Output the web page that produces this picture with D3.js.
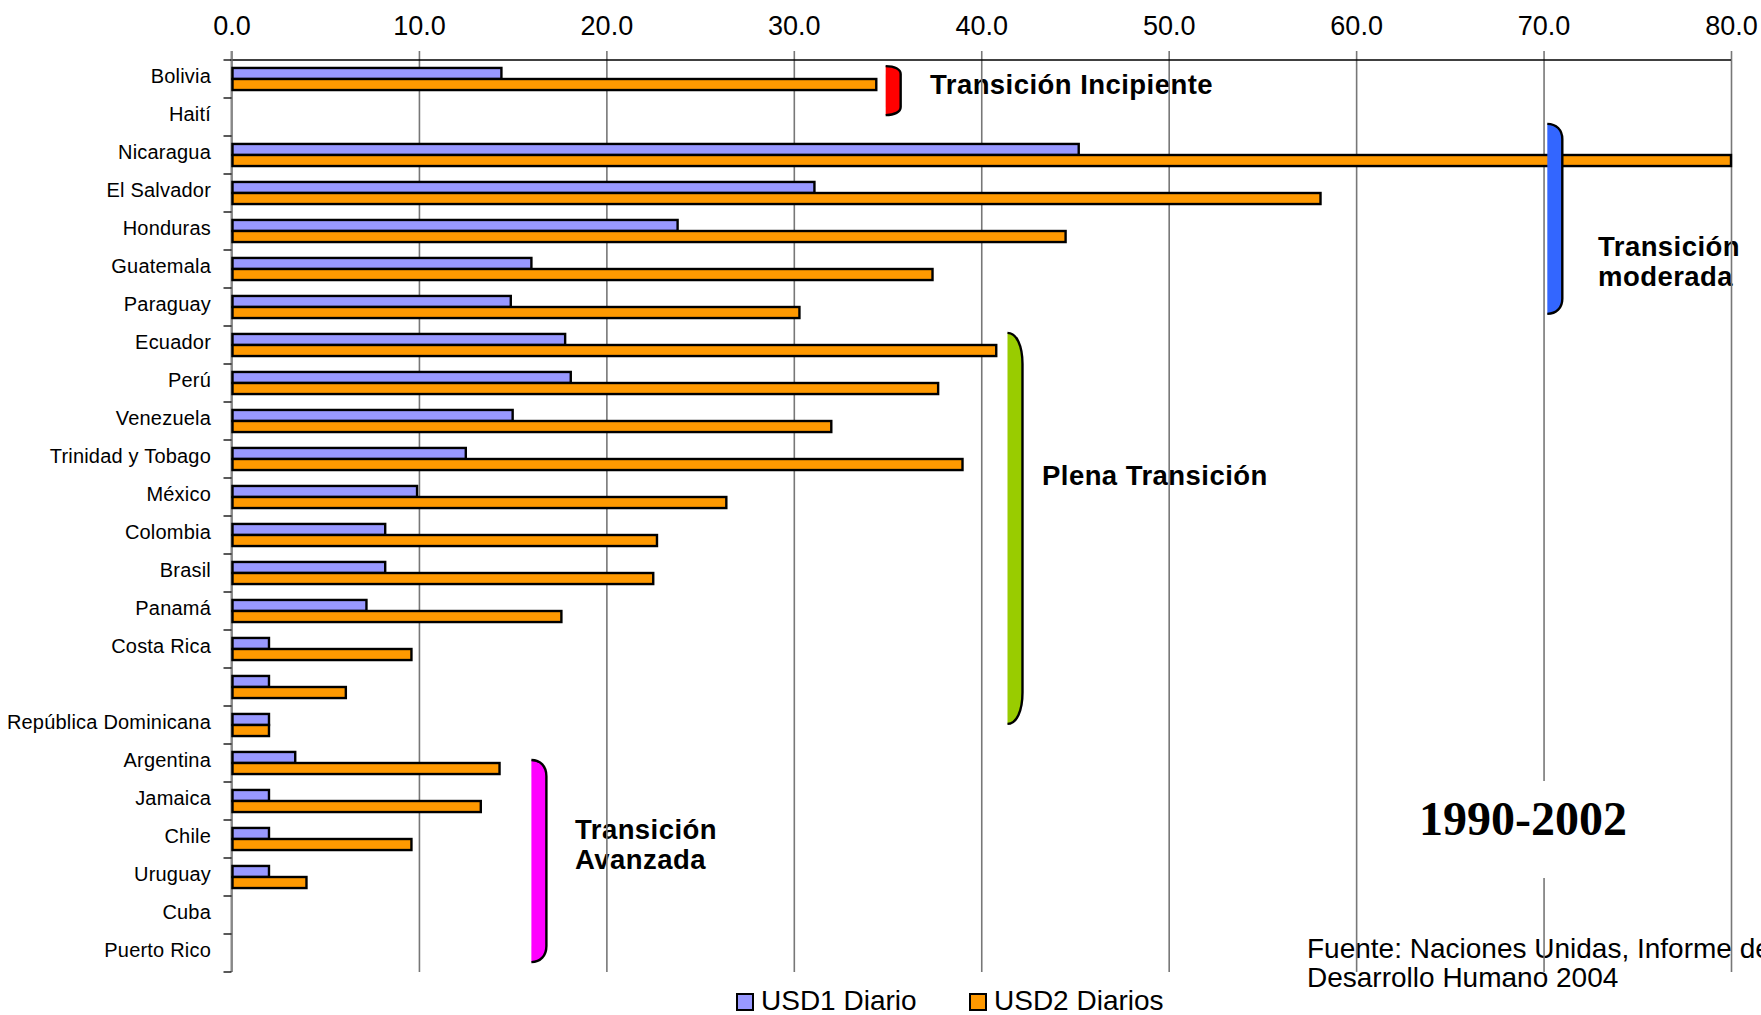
<!DOCTYPE html>
<html>
  <head>
    <meta charset="utf-8">
    <script src="https://d3js.org/d3.v7.min.js"></script>
    <style>
      body { margin: 0; background: #fff; }
      svg { display: block; }
    </style>
  </head>
  <body>
    <svg width="1761" height="1015"></svg>
    <script>
      var categories = ["Bolivia", "Haití", "Nicaragua", "El Salvador", "Honduras", "Guatemala",
        "Paraguay", "Ecuador", "Perú", "Venezuela", "Trinidad y Tobago", "México", "Colombia",
        "Brasil", "Panamá", "Costa Rica", "", "República Dominicana", "Argentina", "Jamaica",
        "Chile", "Uruguay", "Cuba", "Puerto Rico"];
      var usd1 = [14.4, null, 45.2, 31.1, 23.8, 16.0, 14.9, 17.8, 18.1, 15.0, 12.5, 9.9, 8.2,
        8.2, 7.2, 2.0, 2.0, 2.0, 3.4, 2.0, 2.0, 2.0, null, null];
      var usd2 = [34.4, null, 80.0, 58.1, 44.5, 37.4, 30.3, 40.8, 37.7, 32.0, 39.0, 26.4, 22.7,
        22.5, 17.6, 9.6, 6.1, 2.0, 14.3, 13.3, 9.6, 4.0, null, null];
      var seriesNames = ["USD1 Diario", "USD2 Diarios"];
      var xTicks = [0, 10, 20, 30, 40, 50, 60, 70, 80];
      var groupNames = [["Transición Incipiente"], ["Transición", "moderada"],
        ["Plena Transición"], ["Transición", "Avanzada"]];

      var colors = ["#9999ff", "#ff9900"];
      var svg = d3.select("svg");
      var plotTop = 60, plotBottom = 972, plotLeft = 231.5, plotRight = 1731;

      var x = d3.scaleLinear().domain([0, 80]).range([plotLeft, plotRight]);
      var y = d3.scaleBand().domain(d3.range(categories.length)).range([plotTop, plotBottom]);
      var sub = d3.scaleBand().domain([0, 1]).range([0, y.bandwidth()]).paddingOuter(0.72);

      // source note sits behind the grid
      svg.append("text")
        .attr("x", 1307).attr("y", 958)
        .style("font", "28px 'Liberation Sans', Arial, sans-serif")
        .selectAll("tspan")
        .data(["Fuente: Naciones Unidas, Informe de", "Desarrollo Humano 2004"])
        .join("tspan")
        .attr("x", 1307)
        .attr("dy", function(d, i) { return i ? 29 : 0; })
        .text(function(d) { return d; });

      // group labels (also behind grid)
      var labelPos = [[930, 94], [1598, 256], [1042, 485], [575, 839]];
      groupNames.forEach(function(lines, i) {
        svg.append("text")
          .attr("x", labelPos[i][0]).attr("y", labelPos[i][1])
          .style("font", "bold 27.5px 'Liberation Sans', Arial, sans-serif")
          .style("letter-spacing", "0.45px")
          .selectAll("tspan").data(lines).join("tspan")
          .attr("x", labelPos[i][0])
          .attr("dy", function(d, j) { return j ? 30 : 0; })
          .text(function(d) { return d; });
      });

      // top axis with gridlines
      var axis = svg.append("g")
        .attr("transform", "translate(0,51)")
        .call(d3.axisTop(x).tickValues(xTicks).tickFormat(d3.format(".1f"))
          .tickSizeInner(-(plotBottom - 51)).tickSizeOuter(0).tickPadding(16));
      axis.select(".domain").remove();
      axis.selectAll(".tick line").attr("stroke", "#777").attr("stroke-width", 1.6);
      axis.selectAll(".tick text")
        .style("font", "27px 'Liberation Sans', Arial, sans-serif").attr("fill", "#000");

      svg.append("line")
        .attr("x1", plotLeft - 1).attr("x2", plotRight).attr("y1", plotTop).attr("y2", plotTop)
        .attr("stroke", "#000").attr("stroke-width", 1.3);

      // left axis: ticks at row boundaries, labels at centres
      svg.append("line")
        .attr("x1", plotLeft).attr("x2", plotLeft).attr("y1", plotTop - 9).attr("y2", plotBottom)
        .attr("stroke", "#888").attr("stroke-width", 2);
      svg.selectAll(".rowtick")
        .data(d3.range(categories.length + 1))
        .join("line")
        .attr("class", "rowtick")
        .attr("x1", plotLeft - 8).attr("x2", plotLeft)
        .attr("y1", function(i) { return plotTop + i * y.step(); })
        .attr("y2", function(i) { return plotTop + i * y.step(); })
        .attr("stroke", "#000").attr("stroke-width", 1.3);
      svg.selectAll(".cat")
        .data(categories)
        .join("text")
        .attr("class", "cat")
        .attr("x", 211)
        .attr("y", function(d, i) { return y(i) + y.bandwidth() / 2 - 3; })
        .attr("dy", "0.35em")
        .attr("text-anchor", "end")
        .style("font", "20px 'Liberation Sans', Arial, sans-serif")
        .style("letter-spacing", "0.2px")
        .text(function(d) { return d; });

      // bars
      [usd1, usd2].forEach(function(vals, s) {
        svg.append("g").selectAll("rect")
          .data(vals.map(function(v, i) { return { i: i, v: v }; })
            .filter(function(d) { return d.v != null; }))
          .join("rect")
          .attr("x", x(0) + 1)
          .attr("y", function(d) { return y(d.i) + sub(s); })
          .attr("width", function(d) { return x(d.v) - x(0) - 1; })
          .attr("height", sub.bandwidth())
          .attr("fill", colors[s])
          .attr("stroke", "#000")
          .attr("stroke-width", 2.4);
      });

      // group brackets
      var bracketSpec = [
        { c: "#ff0000", v: 34.9, r0: 0.16, r1: 1.45 },
        { c: "#3366ff", v: 70.2, r0: 1.68, r1: 6.68 },
        { c: "#99cc00", v: 41.4, r0: 7.18, r1: 17.47 },
        { c: "#ff00ff", v: 16.0, r0: 18.42, r1: 23.74 }
      ];
      bracketSpec.forEach(function(b) {
        var x0 = x(b.v), x1 = x0 + 15;
        var y0 = plotTop + b.r0 * y.step(), y1 = plotTop + b.r1 * y.step();
        var r = Math.max(8, (y1 - y0) * 0.08), w = x1 - x0;
        var p = d3.path();
        p.moveTo(x0, y0);
        p.bezierCurveTo(x0 + w * 0.6, y0, x1, y0 + r * 0.4, x1, y0 + r);
        p.lineTo(x1, y1 - r);
        p.bezierCurveTo(x1, y1 - r * 0.4, x0 + w * 0.6, y1, x0, y1);
        svg.append("path").attr("d", p.toString() + "Z").attr("fill", b.c);
        svg.append("path").attr("d", p.toString()).attr("fill", "none")
          .attr("stroke", "#000").attr("stroke-width", 2.4);
      });

      // period label with white box hiding the grid
      svg.append("rect").attr("x", 1415).attr("y", 781).attr("width", 215).attr("height", 97)
        .attr("fill", "#fff");
      svg.append("text")
        .attr("x", 1523).attr("y", 835)
        .attr("text-anchor", "middle")
        .style("font", "bold 48px 'Liberation Serif', 'Times New Roman', serif")
        .text("1990-2002");

      // legend
      var leg = svg.append("g").selectAll("g").data(seriesNames).join("g")
        .attr("transform", function(d, i) { return "translate(" + [737, 970][i] + ",0)"; });
      leg.append("rect").attr("x", 0).attr("y", 994).attr("width", 16).attr("height", 16)
        .attr("fill", function(d, i) { return colors[i]; })
        .attr("stroke", "#000").attr("stroke-width", 2);
      leg.append("text").attr("x", 24).attr("y", 1010)
        .style("font", "28px 'Liberation Sans', Arial, sans-serif")
        .text(function(d) { return d; });
    </script>
  </body>
</html>
